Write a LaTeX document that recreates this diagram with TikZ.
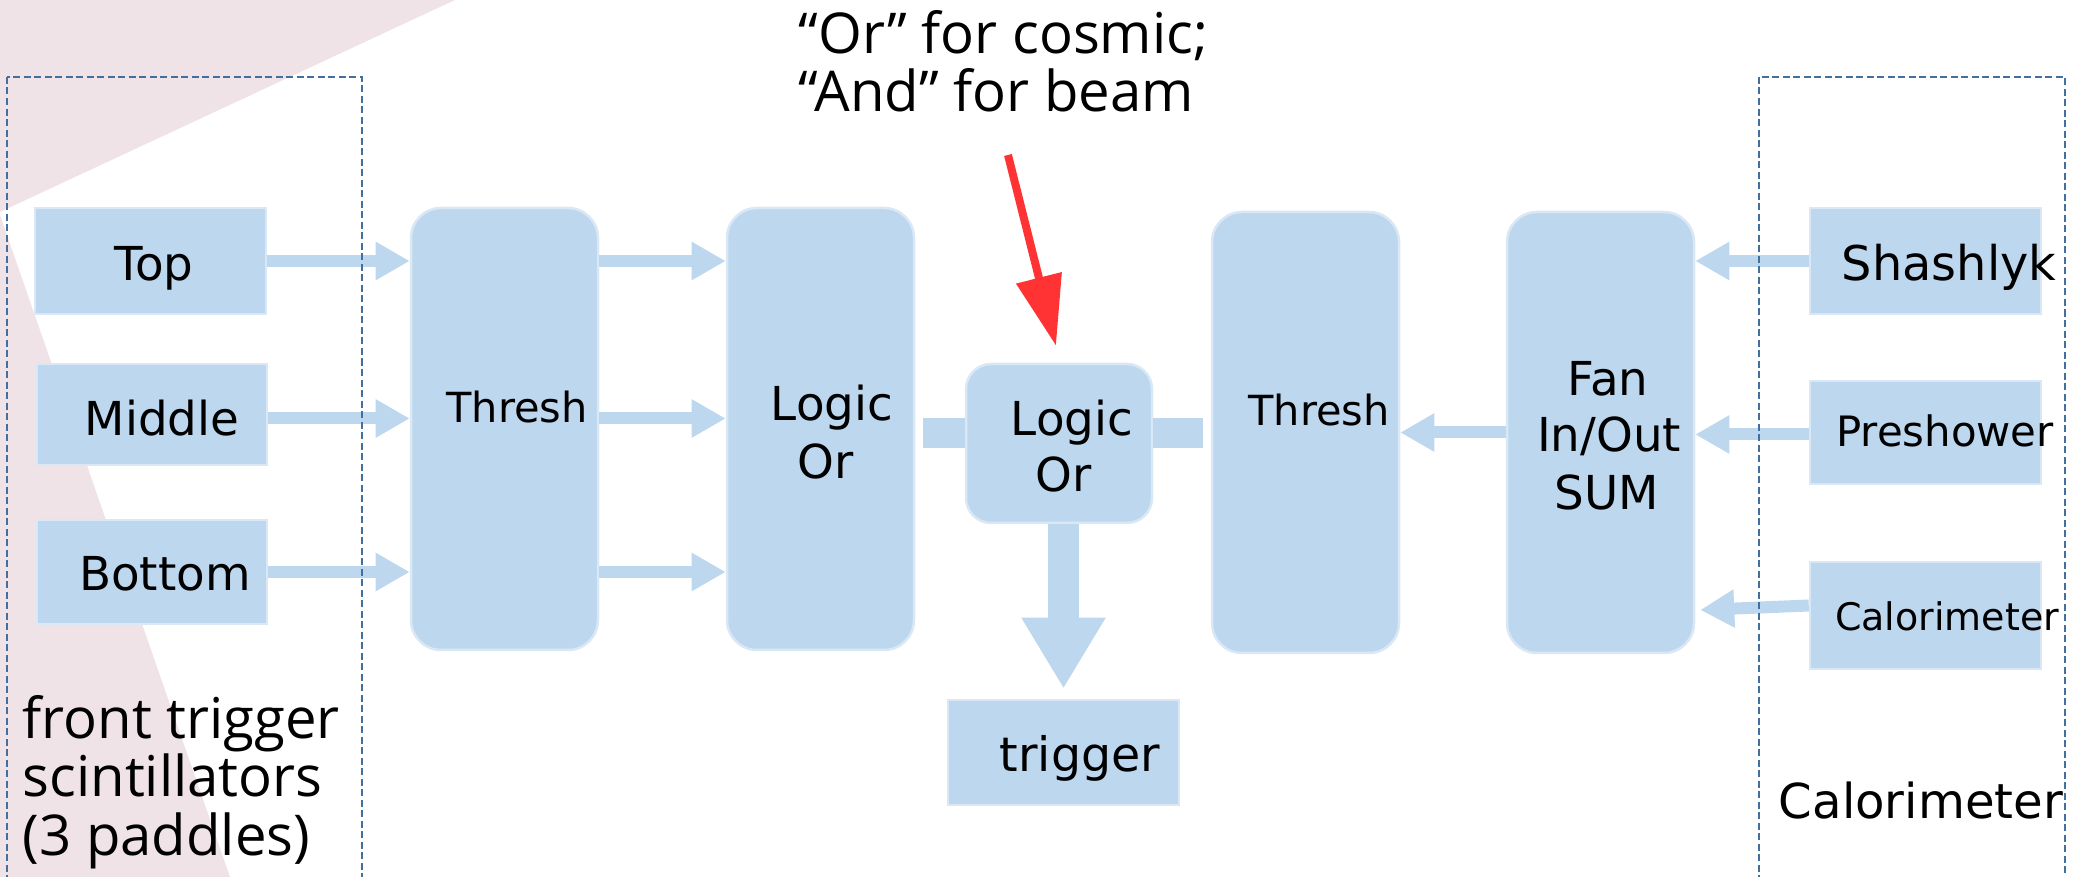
\documentclass[tikz,border=0pt]{standalone}
\usepackage{fontspec}
\setmainfont{DejaVu Sans}
\newfontfamily\comicf{Open Sans}
\usetikzlibrary{arrows.meta,fit,calc}
\definecolor{boxblue}{HTML}{BDD7EE}
\definecolor{boxedge}{HTML}{DAE8F5}
\definecolor{pinkbg}{HTML}{EFE3E8}
\definecolor{dashblue}{HTML}{41709E}
\definecolor{redarr}{HTML}{FF3333}
\begin{document}
\begin{tikzpicture}[x=0.01cm,y=-0.01cm,
  box/.style={fill=boxblue, draw=boxedge, line width=0.25mm, inner sep=0pt},
  rbox/.style={box, rounded corners=3mm},
  lbl/.style={font=\fontsize{13.3}{15}\selectfont, anchor=base, inner sep=0pt},
  hand/.style={font=\comicf\fontsize{16}{18}\selectfont, anchor=base west, inner sep=0pt},
  blk/.style={draw=boxblue, line width=1.2mm, -{Triangle[length=3.4mm,width=3.6mm]}},
  barconn/.style={draw=boxblue, line width=3mm},
  downarr/.style={draw=boxblue, line width=3.1mm, -{Triangle[length=7.1mm,width=7.9mm]}},
  redarrow/.style={draw=redarr, fill=redarr, line width=0.8mm, -{Triangle[length=7mm,width=4.5mm]}},
  dashbox/.style={draw=dashblue, line width=0.28mm, dash pattern=on 0.7mm off 0.35mm}]
\useasboundingbox (0,0) rectangle (2075,877);
% background decoration
\fill[pinkbg] (0,0) -- (455,0) -- (0,212) -- cycle;
\fill[pinkbg] (0,215) -- (230,877) -- (0,877) -- cycle;
% boxes
\node[box, fit={(35,208)(266,314)}] (top) {};
\node[box, fit={(37,364)(267,465)}] (mid) {};
\node[box, fit={(37,520)(267,624)}] (bot) {};
\node[rbox, fit={(411,208)(598,650)}] (th1) {};
\node[rbox, fit={(727,208)(914,650)}] (lo1) {};
\node[box, rounded corners=2.5mm, fit={(966,364)(1152,523)}] (lo2) {};
\node[box, fit={(948,700)(1179,805)}] (trig) {};
\node[rbox, fit={(1212,212)(1399,653)}] (th2) {};
\node[rbox, fit={(1507,212)(1694,653)}] (fan) {};
\node[box, fit={(1810,208)(2041,314)}] (sha) {};
\node[box, fit={(1810,381)(2041,484)}] (pre) {};
\node[box, fit={(1810,562)(2041,669)}] (cal) {};
% labels
\node[lbl] (tTop) at (154,281) {Top};
\node[lbl] (tMid) at (162,436) {Middle};
\node[lbl] (tBot) at (165,591) {Bottom};
\node[lbl, font=\fontsize{11.8}{14}\selectfont] (tTh1) at (517,423) {Thresh};
\node[lbl] (tLo1a) at (832,421) {Logic};
\node[lbl] (tLo1b) at (826,479) {Or};
\node[lbl] (tLo2a) at (1072,436) {Logic};
\node[lbl] (tLo2b) at (1064,492) {Or};
\node[lbl, font=\fontsize{13.5}{15}\selectfont] (tTrig) at (1080,772) {trigger};
\node[lbl, font=\fontsize{11.8}{14}\selectfont] (tTh2) at (1319,426) {Thresh};
\node[lbl] (tFan1) at (1608,396) {Fan};
\node[lbl] (tFan2) at (1609,452) {In/Out};
\node[lbl] (tFan3) at (1607,510) {SUM};
\node[lbl, font=\fontsize{13.6}{15}\selectfont] (tSha) at (1949,281) {Shashlyk};
\node[lbl, font=\fontsize{11.9}{14}\selectfont] (tPre) at (1945,447) {Preshower};
\node[lbl, font=\fontsize{10.8}{13}\selectfont] (tCal) at (1947,631) {Calorimeter};
\node[lbl, font=\fontsize{13.7}{15}\selectfont] (tCalG) at (1921,819) {Calorimeter};
\node[hand] (n1) at (798,54) {“Or” for cosmic;};
\node[hand] (n2) at (798,112) {“And” for beam};
\node[hand] (f1) at (22,739) {front trigger};
\node[hand] (f2) at (22,797) {scintillators};
\node[hand] (f3) at (22,856) {(3 paddles)};
% connectors
\draw[blk] (top.east) -- (th1.west |- top.east);
\draw[blk] ($(mid.east)+(0,4)$) -- ($(th1.west |- mid.east)+(0,4)$);
\draw[blk] (bot.east) -- (th1.west |- bot.east);
\draw[blk] (th1.east |- top.east) -- (lo1.west |- top.east);
\draw[blk] ($(th1.east |- mid.east)+(0,4)$) -- ($(lo1.west |- mid.east)+(0,4)$);
\draw[blk] (th1.east |- bot.east) -- (lo1.west |- bot.east);
\coordinate (bary) at (0,433);
\draw[barconn] ($(lo1.east |- bary)+(8,0)$) -- (lo2.west |- bary);
\draw[barconn] (lo2.east |- bary) -- ($(th2.west |- bary)+(-8,0)$);
\draw[downarr] (trig.north |- lo2.south) -- ($(trig.north)+(0,-10)$);
\coordinate (rs) at (1008,155);
\draw[redarrow] (rs) -- ($(lo2.north)+(-3,-17)$);
\draw[blk] (fan.west) -- (th2.east);
\draw[blk] (sha.west) -- (fan.east |- sha.west);
\draw[blk] ($(pre.west)+(0,2)$) -- ($(fan.east |- pre.west)+(0,2)$);
\draw[blk] ($(cal.west)+(0,-10)$) -- ($(fan.east |- cal.west)+(5,-5.5)$);
% group frames (drawn on top)
\draw[dashbox] (7,77) rectangle (362,900);
\draw[dashbox] (1759,77) rectangle (2065,900);
\end{tikzpicture}
\end{document}
